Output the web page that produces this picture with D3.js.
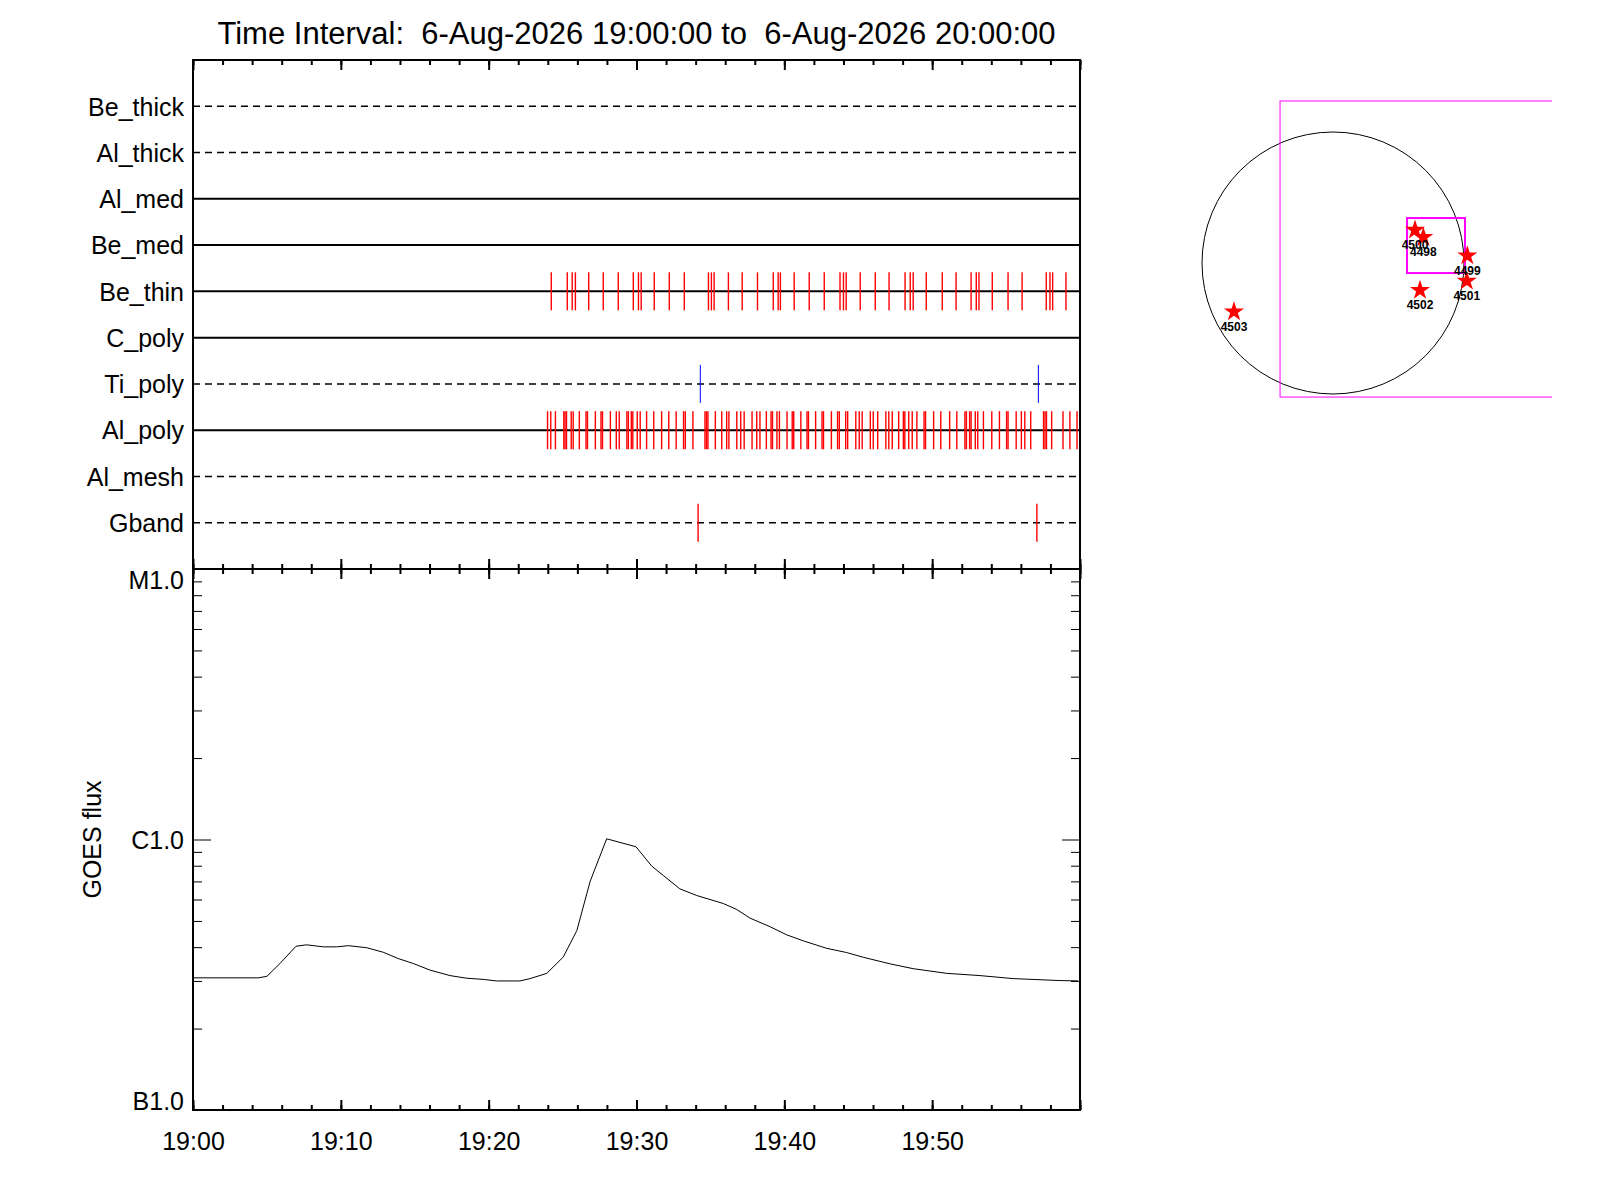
<!DOCTYPE html>
<html>
<head>
<meta charset="utf-8">
<style>
  body { margin: 0; background: #fff; }
  svg { display: block; font-family: "Liberation Sans", Arial, sans-serif; }
  .row-dashed { stroke-dasharray: 7 5; stroke-width: 1.5; }
  .row-solid { stroke-width: 2; }
</style>
</head>
<body>
<svg width="1600" height="1200"></svg>
<script src="https://cdn.jsdelivr.net/npm/d3@7"></script>
<script>
// ---- data ----
const day = "2026-08-06";
const startTime = "19:00:00";
const endTime = "20:00:00";
const title = "Time Interval:  6-Aug-2026 19:00:00 to  6-Aug-2026 20:00:00";

const channels = ["Be_thick", "Al_thick", "Al_med", "Be_med", "Be_thin",
                  "C_poly", "Ti_poly", "Al_poly", "Al_mesh", "Gband"];
// channels drawn dashed (no data coverage)
const dashedChannels = ["Be_thick", "Al_thick", "Ti_poly", "Al_mesh", "Gband"];

const beThinTimes = ["19:24:14", "19:25:19", "19:25:39", "19:25:52", "19:26:46", "19:27:45",
  "19:28:46", "19:29:47", "19:30:08", "19:30:19", "19:31:12", "19:32:13", "19:33:14",
  "19:34:52", "19:35:04", "19:35:15", "19:36:13", "19:37:09", "19:38:11", "19:39:15",
  "19:39:35", "19:39:44", "19:40:40", "19:41:41", "19:42:42", "19:43:46", "19:44:00",
  "19:44:11", "19:45:08", "19:46:09", "19:47:05", "19:48:10", "19:48:31", "19:48:43",
  "19:49:36", "19:50:41", "19:51:37", "19:52:38", "19:52:59", "19:53:10", "19:54:04",
  "19:55:08", "19:56:05", "19:57:43", "19:57:58", "19:58:09", "19:59:03"];

const tiPolyTimes = ["19:34:19", "19:57:11"];

const alPolyTimes = ["19:23:59", "19:24:12", "19:24:31", "19:25:05", "19:25:10", "19:25:16",
  "19:25:35", "19:25:43", "19:26:08", "19:26:35", "19:26:41", "19:27:13", "19:27:36",
  "19:27:42", "19:28:14", "19:28:38", "19:28:50", "19:29:21", "19:29:27", "19:29:39",
  "19:29:45", "19:30:03", "19:30:15", "19:30:41", "19:31:10", "19:31:42", "19:32:11",
  "19:32:41", "19:33:11", "19:33:18", "19:33:49", "19:34:38", "19:34:44", "19:34:50",
  "19:35:20", "19:35:46", "19:36:06", "19:36:15", "19:36:47", "19:37:03", "19:37:17",
  "19:37:49", "19:38:08", "19:38:21", "19:38:47", "19:39:06", "19:39:12", "19:39:30",
  "19:39:40", "19:40:11", "19:40:32", "19:40:38", "19:41:07", "19:41:32", "19:41:38",
  "19:42:07", "19:42:33", "19:42:39", "19:43:11", "19:43:36", "19:43:43", "19:44:09",
  "19:44:17", "19:44:50", "19:45:04", "19:45:16", "19:45:49", "19:46:01", "19:46:19",
  "19:46:52", "19:47:04", "19:47:18", "19:47:44", "19:48:03", "19:48:09", "19:48:25",
  "19:48:39", "19:48:58", "19:49:27", "19:49:33", "19:50:06", "19:50:35", "19:51:11",
  "19:51:40", "19:52:13", "19:52:19", "19:52:32", "19:52:38", "19:52:55", "19:53:05",
  "19:53:28", "19:54:02", "19:54:33", "19:55:02", "19:55:08", "19:55:41", "19:56:02",
  "19:56:16", "19:56:40", "19:57:32", "19:57:38", "19:57:44", "19:58:05", "19:58:51",
  "19:59:19", "19:59:48"];

const gbandTimes = ["19:34:10", "19:57:05"];

const goesTimes = ["19:00:00", "19:04:25", "19:05:00", "19:05:53", "19:06:58", "19:07:41",
  "19:08:49", "19:09:43", "19:10:31", "19:11:45", "19:12:52", "19:13:53", "19:14:54",
  "19:16:02", "19:17:23", "19:18:31", "19:19:38", "19:20:32", "19:22:07", "19:22:48",
  "19:23:56", "19:25:03", "19:25:58", "19:26:52", "19:27:59", "19:29:58", "19:31:02",
  "19:31:49", "19:32:56", "19:34:04", "19:35:52", "19:36:47", "19:37:41", "19:39:02",
  "19:40:10", "19:41:17", "19:42:52", "19:44:13", "19:45:20", "19:47:09", "19:48:43",
  "19:50:59", "19:53:14", "19:55:29", "19:58:39", "19:59:52"];
const goesFlux = [3.08e-7, 3.08e-7, 3.12e-7, 3.48e-7, 4.03e-7, 4.08e-7,
  4.01e-7, 4.01e-7, 4.05e-7, 3.98e-7, 3.83e-7, 3.63e-7, 3.48e-7,
  3.29e-7, 3.14e-7, 3.07e-7, 3.04e-7, 3.00e-7, 3.00e-7, 3.06e-7,
  3.20e-7, 3.68e-7, 4.61e-7, 7.01e-7, 1.006e-6, 9.40e-7, 7.97e-7,
  7.36e-7, 6.57e-7, 6.21e-7, 5.80e-7, 5.51e-7, 5.12e-7, 4.76e-7,
  4.44e-7, 4.22e-7, 3.96e-7, 3.82e-7, 3.67e-7, 3.47e-7, 3.33e-7,
  3.20e-7, 3.14e-7, 3.06e-7, 3.01e-7, 3.00e-7];

const goesClasses = ["B1.0", "C1.0", "M1.0"];
const goesClassFlux = [1e-7, 1e-6, 1e-5];
const yTitle = "GOES flux";

// active regions on the solar disk (arcsec from disk centre)
const arNumbers = [4498, 4500, 4499, 4501, 4502, 4503];
const arX = [655, 595, 974, 970, 631, -718];
const arY = [186, 239, 53, -131, -198, -353];
const rsun = 950;
const mapRange = [-1000, 1588];             // visible x range of the map window
const fovBox = [-384, 2000, -972, 1175];    // x0, x1, y0, y1
const zoomBox = [537, 957, -73, 326];

// ---- drawing ----
const svg = d3.select("svg");
const parse = d3.utcParse("%Y-%m-%d %H:%M:%S");
const t = s => parse(day + " " + s);

const pLeft = 193, pRight = 1080, pTop = 60, pMid = 569, pBottom = 1110;

const x = d3.scaleUtc().domain([t(startTime), t(endTime)]).range([pLeft, pRight]);
const rowY = d3.scalePoint().domain(channels).range([pTop, pMid]).padding(1);
const y = d3.scaleLog().domain([1e-7, 1e-5]).range([pBottom, pMid]);

svg.append("text")
  .attr("x", (pLeft + pRight) / 2).attr("y", 44)
  .attr("text-anchor", "middle")
  .attr("xml:space", "preserve")
  .style("white-space", "pre")
  .style("font-size", "31px")
  .text(title);

// top panel rows
const rows = svg.append("g");
rows.selectAll("line")
  .data(channels)
  .join("line")
  .attr("class", d => dashedChannels.includes(d) ? "row-dashed" : "row-solid")
  .attr("x1", pLeft).attr("x2", pRight)
  .attr("y1", d => rowY(d)).attr("y2", d => rowY(d))
  .attr("stroke", "#000");

rows.selectAll("text")
  .data(channels)
  .join("text")
  .attr("x", pLeft - 9)
  .attr("y", d => rowY(d))
  .attr("dy", "0.37em")
  .attr("text-anchor", "end")
  .style("font-size", "25px")
  .text(d => d);

const events = [
  { ch: "Be_thin", times: beThinTimes, color: "#ff0000" },
  { ch: "Ti_poly", times: tiPolyTimes, color: "#0000ff" },
  { ch: "Al_poly", times: alPolyTimes, color: "#ff0000" },
  { ch: "Gband", times: gbandTimes, color: "#ff0000" }
];
events.forEach(ev => {
  svg.append("g")
    .selectAll("line")
    .data(ev.times)
    .join("line")
    .attr("x1", d => x(t(d))).attr("x2", d => x(t(d)))
    .attr("y1", rowY(ev.ch) - 19).attr("y2", rowY(ev.ch) + 19)
    .attr("stroke", ev.color)
    .attr("stroke-width", ev.color === "#0000ff" ? 1 : 1.4);
});

// time ticks
const majorT = d3.utcMinute.every(10);
const minorT = d3.utcMinute.every(2);
function timeTicks(yPos, axisFn, size) {
  [[majorT, size], [minorT, size / 2]].forEach(([iv, s]) => {
    const g = svg.append("g")
      .attr("transform", `translate(0,${yPos})`)
      .call(axisFn(x).ticks(iv).tickSize(s).tickSizeOuter(0).tickFormat(""));
    g.select(".domain").remove();
    g.selectAll(".tick line").attr("stroke-width", 2);
  });
}
timeTicks(pTop, d3.axisTop, -10);
timeTicks(pMid, d3.axisBottom, -10);
timeTicks(pMid, d3.axisTop, -10);
timeTicks(pBottom, d3.axisBottom, -10);

const xl = svg.append("g")
  .attr("transform", `translate(0,${pBottom})`)
  .call(d3.axisBottom(x)
    .tickValues(x.ticks(majorT).slice(0, -1))
    .tickSize(0).tickPadding(22)
    .tickFormat(d3.utcFormat("%H:%M")));
xl.select(".domain").remove();
xl.selectAll("text").style("font-size", "25px").attr("font-family", null).attr("fill", "#000");

// GOES flux axes
const yMinor = y.ticks().filter(d => !goesClassFlux.includes(d));
[[d3.axisLeft, pLeft], [d3.axisRight, pRight]].forEach(([fn, xPos]) => {
  const g1 = svg.append("g").attr("transform", `translate(${xPos},0)`)
    .call(fn(y).tickValues(goesClassFlux).tickSize(-18).tickSizeOuter(0).tickFormat(""));
  const g2 = svg.append("g").attr("transform", `translate(${xPos},0)`)
    .call(fn(y).tickValues(yMinor).tickSize(-9).tickSizeOuter(0).tickFormat(""));
  [g1, g2].forEach(g => { g.select(".domain").remove(); g.selectAll(".tick line").attr("stroke-width", 1); });
});

svg.append("g")
  .selectAll("text")
  .data(goesClasses)
  .join("text")
  .attr("x", pLeft - 9)
  .attr("y", (d, i) => Math.min(Math.max(y(goesClassFlux[i]), pMid + 11), pBottom - 9))
  .attr("dy", "0.37em")
  .attr("text-anchor", "end")
  .style("font-size", "25px")
  .text(d => d);

svg.append("text")
  .attr("transform", `translate(101,${(pMid + pBottom) / 2}) rotate(-90)`)
  .attr("text-anchor", "middle")
  .style("font-size", "25px")
  .text(yTitle);

const goes = goesTimes.map((s, i) => [t(s), goesFlux[i]]);
svg.append("path")
  .datum(goes)
  .attr("fill", "none")
  .attr("stroke", "#000")
  .attr("stroke-width", 1)
  .attr("d", d3.line().x(d => x(d[0])).y(d => y(d[1])));

// frames
svg.append("rect")
  .attr("x", pLeft).attr("y", pTop)
  .attr("width", pRight - pLeft).attr("height", pBottom - pTop)
  .attr("fill", "none").attr("stroke", "#000").attr("stroke-width", 2);
svg.append("line")
  .attr("x1", pLeft).attr("x2", pRight).attr("y1", pMid).attr("y2", pMid)
  .attr("stroke", "#000").attr("stroke-width", 2);

// solar disk map
const sx = d3.scaleLinear().domain([-rsun, rsun]).range([1333 - 131, 1333 + 131]);
const sy = d3.scaleLinear().domain([-rsun, rsun]).range([263 + 131, 263 - 131]);
svg.append("clipPath").attr("id", "mapclip")
  .append("rect")
  .attr("x", sx(mapRange[0])).attr("y", 0)
  .attr("width", sx(mapRange[1]) - sx(mapRange[0])).attr("height", 560);
const sun = svg.append("g");
sun.append("circle")
  .attr("cx", sx(0)).attr("cy", sy(0)).attr("r", sx(rsun) - sx(0))
  .attr("fill", "none").attr("stroke", "#000").attr("stroke-width", 1);
sun.append("rect")
  .attr("clip-path", "url(#mapclip)")
  .attr("x", sx(fovBox[0])).attr("y", sy(fovBox[3]))
  .attr("width", sx(fovBox[1]) - sx(fovBox[0])).attr("height", sy(fovBox[2]) - sy(fovBox[3]))
  .attr("fill", "none").attr("stroke", "#ff00ff").attr("stroke-width", 1);
sun.append("rect")
  .attr("x", sx(zoomBox[0])).attr("y", sy(zoomBox[3]))
  .attr("width", sx(zoomBox[1]) - sx(zoomBox[0])).attr("height", sy(zoomBox[2]) - sy(zoomBox[3]))
  .attr("fill", "none").attr("stroke", "#ff00ff").attr("stroke-width", 2);

const star = d3.symbol(d3.symbolStar, 125);
sun.selectAll("path.star")
  .data(arNumbers)
  .join("path")
  .attr("class", "star")
  .attr("transform", (d, i) => `translate(${sx(arX[i])},${sy(arY[i])})`)
  .attr("d", star)
  .attr("fill", "#ff0000");
sun.selectAll("text")
  .data(arNumbers)
  .join("text")
  .attr("x", (d, i) => sx(arX[i]))
  .attr("y", (d, i) => sy(arY[i]) + 19)
  .attr("text-anchor", "middle")
  .style("font-size", "12px")
  .style("font-weight", "bold")
  .text(d => d);
</script>
</body>
</html>
